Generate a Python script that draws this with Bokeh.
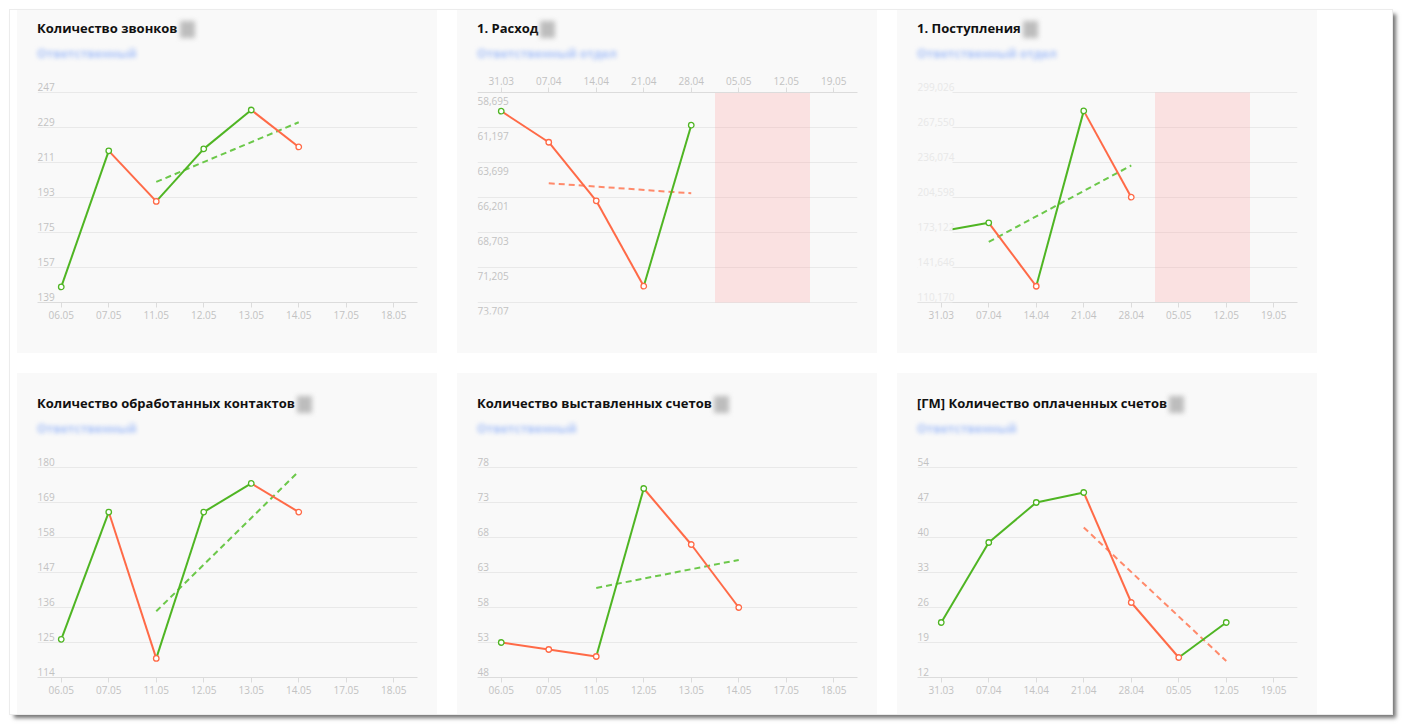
from bokeh.plotting import figure
from bokeh.layouts import row, column
from bokeh.models import (Range1d, FixedTicker, LabelSet, ColumnDataSource,
                          BoxAnnotation, Div)
from bokeh.core.properties import value
from bokeh.embed import file_html
from bokeh.resources import INLINE

# ---------------- data ----------------
calls_title = "Количество звонков"
calls_dates = ["06.05", "07.05", "11.05", "12.05", "13.05", "14.05", "17.05", "18.05"]
calls_values = [147, 217, 191, 218, 238, 219]
calls_yticks = [139, 157, 175, 193, 211, 229, 247]
calls_trend_dates = ["11.05", "14.05"]
calls_trend_values = [201, 231.7]

expense_title = "1. Расход"
expense_dates = ["31.03", "07.04", "14.04", "21.04", "28.04", "05.05", "12.05", "19.05"]
expense_values = [60030, 62250, 66440, 72540, 61030]
expense_yticks = [58695, 61197, 63699, 66201, 68703, 71205, 73707]
expense_trend_dates = ["07.04", "28.04"]
expense_trend_values = [65180, 65900]
expense_band_dates = ["05.05", "12.05"]

income_title = "1. Поступления"
income_dates = ["31.03", "07.04", "14.04", "21.04", "28.04", "05.05", "12.05", "19.05"]
income_values = [174300, 181800, 124800, 282500, 204900]
income_yticks = [110170, 141646, 173122, 204598, 236074, 267550, 299026]
income_trend_dates = ["07.04", "28.04"]
income_trend_values = [164700, 233400]
income_band_dates = ["05.05", "12.05"]

contacts_title = "Количество обработанных контактов"
contacts_dates = ["06.05", "07.05", "11.05", "12.05", "13.05", "14.05", "17.05", "18.05"]
contacts_values = [126, 166, 120, 166, 175, 166]
contacts_yticks = [114, 125, 136, 147, 158, 169, 180]
contacts_trend_dates = ["11.05", "14.05"]
contacts_trend_values = [134.8, 178.8]

invoices_title = "Количество выставленных счетов"
invoices_dates = ["06.05", "07.05", "11.05", "12.05", "13.05", "14.05", "17.05", "18.05"]
invoices_values = [53, 52, 51, 75, 67, 58]
invoices_yticks = [48, 53, 58, 63, 68, 73, 78]
invoices_trend_dates = ["11.05", "14.05"]
invoices_trend_values = [60.8, 64.8]

paid_title = "[ГМ] Количество оплаченных счетов"
paid_dates = ["31.03", "07.04", "14.04", "21.04", "28.04", "05.05", "12.05", "19.05"]
paid_values = [23, 39, 47, 49, 27, 16, 23]
paid_yticks = [12, 19, 26, 33, 40, 47, 54]
paid_trend_dates = ["21.04", "12.05"]
paid_trend_values = [42.0, 15.3]

owner_short = "Ответственный"
owner_long = "Ответственный отдел"

# ---------------- style ----------------
CARD = "#f9f9f9"
GREEN = "#4fb523"
RED = "#ff6a47"
GREEN_T = "#6cc84a"
RED_T = "#ff8a6b"
TICK_COLOR = "#c2c2c2"
GRID = "#e9e9e9"
AXIS = "#dcdcdc"
FONT = "Open Sans"

CARD_W = 420
GRID_H = 210      # pixel distance between first and last grid line
PAD = 12          # extra frame room for the outer tick label


def header(title, owner, top_row):
    pad_top = 9 if top_row else 21
    h = 56 if top_row else 68
    html = (
        f'<div style="padding:{pad_top}px 0 0 20px;font-family:\'Open Sans\';font-weight:bold;'
        f'font-size:13px;line-height:18px;color:#111;white-space:nowrap">{title}'
        '<span style="display:inline-block;width:15px;height:17px;margin-left:2px;'
        'background:#bdbdbd;filter:blur(2.5px);vertical-align:middle;color:#bdbdbd;'
        'font-size:9px;text-align:center;line-height:17px">?</span></div>'
        '<div style="padding-left:20px;margin-top:8px;font-family:\'Open Sans\';font-size:12px;'
        f'font-weight:bold;line-height:16px;color:#a9c2f8;filter:blur(2.2px);'
        f'white-space:nowrap">{owner}</div>'
    )
    return Div(text=html, width=CARD_W, height=h, margin=0,
               styles={"background-color": CARD})


def card(title, dates, values, yticks, trend_dates, trend_values, owner,
         top_row=True, inverted=False, axis_above=False,
         band_dates=None, blurred=False):
    head = header(title, owner, top_row)
    head_h = 56 if top_row else 68
    card_h = 343 if top_row else 341
    fig_h = card_h - head_h
    grid_top = 82 if top_row else 94          # card-relative y of first grid line
    n = len(dates)
    x0, x1 = -0.5, n - 0.5
    ylo, yhi = min(yticks), max(yticks)
    extra = (yhi - ylo) * PAD / GRID_H
    frame_h = GRID_H + PAD
    if inverted:
        yr = Range1d(yhi + extra, ylo)
        border_top = grid_top - head_h
    else:
        yr = Range1d(ylo, yhi + extra)
        border_top = grid_top - PAD - head_h
    border_bottom = fig_h - border_top - frame_h

    p = figure(width=CARD_W, height=fig_h, output_backend="svg", toolbar_location=None,
               x_range=Range1d(x0, x1), y_range=yr,
               x_axis_location="above" if axis_above else "below",
               y_axis_location=None, margin=0,
               min_border_left=20, min_border_right=20,
               min_border_top=border_top, min_border_bottom=border_bottom)
    p.background_fill_color = CARD
    p.border_fill_color = CARD
    p.outline_line_color = None
    p.xgrid.grid_line_color = None
    p.ygrid.ticker = FixedTicker(ticks=yticks)
    p.ygrid.grid_line_color = GRID
    p.ygrid.grid_line_width = 1

    ax = p.xaxis[0]
    ax.ticker = FixedTicker(ticks=list(range(n)))
    ax.major_label_overrides = {i: d for i, d in enumerate(dates)}
    ax.major_label_text_font = FONT
    ax.major_label_text_font_size = "10px"
    ax.major_label_text_color = TICK_COLOR
    ax.axis_line_color = AXIS
    ax.major_tick_line_color = AXIS
    ax.major_tick_out = 5
    ax.major_tick_in = 0
    ax.minor_tick_line_color = None
    ax.major_label_standoff = 3

    idx = {d: i for i, d in enumerate(dates)}

    if band_dates:
        p.quad(left=[idx[band_dates[0]] - 0.5], right=[idx[band_dates[1]] + 0.5],
               bottom=[ylo], top=[yhi], fill_color="#ff9c9c", fill_alpha=0.25,
               line_color=None)

    def up(a, b):
        return (b < a) if inverted else (b > a)

    tx = [idx[d] for d in trend_dates]
    tcol = GREEN_T if up(trend_values[0], trend_values[1]) else RED_T
    p.line(tx, trend_values, line_color=tcol, line_width=2, line_dash="6 4")

    xs = list(range(len(values)))
    seg_cols = [GREEN if up(values[i], values[i + 1]) else RED
                for i in range(len(values) - 1)]
    p.segment(x0=xs[:-1], y0=values[:-1], x1=xs[1:], y1=values[1:],
              line_color=seg_cols, line_width=2)
    mcols = [GREEN] + seg_cols
    p.scatter(xs, values, size=5.5, fill_color="white", line_color=mcols, line_width=1.3)

    labels = [f"{v:,}" for v in yticks]
    if blurred:
        px_per_unit = (CARD_W - 40) / n
        p.add_layout(BoxAnnotation(left=x0, right=x0 + 35 / px_per_unit,
                                   bottom=ylo, top=yhi + extra, fill_color=CARD,
                                   fill_alpha=1.0, line_color=None))
    src = ColumnDataSource(dict(x=[x0] * len(yticks), y=yticks, text=labels))
    p.add_layout(LabelSet(x="x", y="y", text="text", source=src,
                          y_offset=-12 if inverted else 2,
                          text_align="left", text_baseline="alphabetic",
                          text_font=value(FONT), text_font_size="10px",
                          text_color="#e8e8e8" if blurred else TICK_COLOR))
    return column(head, p, spacing=0, margin=0, styles={"background-color": CARD})


c1 = card(calls_title, calls_dates, calls_values, calls_yticks, calls_trend_dates,
          calls_trend_values, owner_short)
c2 = card(expense_title, expense_dates, expense_values, expense_yticks, expense_trend_dates,
          expense_trend_values, owner_long, inverted=True, axis_above=True,
          band_dates=expense_band_dates)
c3 = card(income_title, income_dates, income_values, income_yticks, income_trend_dates,
          income_trend_values, owner_long, band_dates=income_band_dates, blurred=True)
c4 = card(contacts_title, contacts_dates, contacts_values, contacts_yticks,
          contacts_trend_dates, contacts_trend_values, owner_short, top_row=False)
c5 = card(invoices_title, invoices_dates, invoices_values, invoices_yticks,
          invoices_trend_dates, invoices_trend_values, owner_short, top_row=False)
c6 = card(paid_title, paid_dates, paid_values, paid_yticks, paid_trend_dates,
          paid_trend_values, owner_short, top_row=False)

layout = column(row(c1, c2, c3, spacing=20), row(c4, c5, c6, spacing=20), spacing=20,
                margin=(10, 0, 0, 10),
                styles={"background-color": "white", "padding": "0px 75px 0px 7px",
                        "box-shadow": "0 0 0 1px #ececec, 4px 4px 4px rgba(0,0,0,0.55)"})

open("out.html", "w").write(file_html(layout, INLINE))
